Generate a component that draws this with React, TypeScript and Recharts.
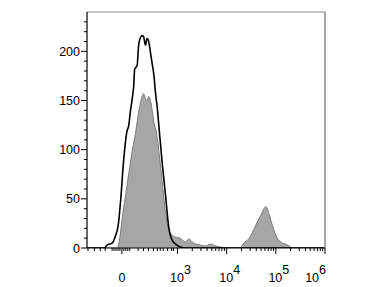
import { Area, ComposedChart, ReferenceLine, XAxis, YAxis } from "recharts";

// x positions are in display decades of the biexponential axis (10^3 = 3, "0" = 1.87)
const controlPos = [1.16, 1.51, 1.57, 1.67, 1.73, 1.8, 1.85, 1.9, 1.97, 2.01, 2.04, 2.08, 2.11, 2.13, 2.16, 2.18, 2.21, 2.24, 2.28, 2.31, 2.35, 2.38, 2.41, 2.45, 2.48, 2.52, 2.55, 2.59, 2.62, 2.69, 2.76, 2.82, 2.89, 2.99, 3.06, 3.16, 6];
const controlCount = [0, 0, 3, 5, 11, 25, 52, 86, 118, 125, 138, 152, 165, 182, 184, 186, 206, 213, 216, 215, 206, 213, 211, 199, 189, 176, 159, 142, 125, 86, 52, 22, 8, 3, 1, 0, 0];

const stainedPos = [1.16, 1.78, 1.8, 1.84, 1.87, 1.94, 2.01, 2.08, 2.14, 2.21, 2.28, 2.31, 2.35, 2.38, 2.41, 2.45, 2.48, 2.52, 2.57, 2.65, 2.72, 2.79, 2.86, 2.96, 3.06, 3.16, 3.23, 3.33, 3.47, 3.57, 3.67, 3.78, 3.88, 3.98, 4.29, 4.32, 4.46, 4.59, 4.69, 4.8, 4.86, 4.93, 5.0, 5.1, 5.24, 5.35, 6];
const stainedCount = [0, 0, 3, 15, 28, 52, 76, 99, 115, 138, 154, 157, 152, 149, 154, 150, 142, 128, 118, 86, 52, 25, 15, 11, 10, 6, 9, 5, 3, 2, 4, 2, 1, 0, 0, 3, 10, 23, 33, 42, 35, 23, 13, 6, 3, 0, 0];

const xMajorPos = [1.87, 3, 4, 5, 6];
const xMajorExp = ["", "3", "4", "5", "6"];
const xLinearMinor = [1.18, 1.31, 1.43, 1.53, 1.67, 1.71, 1.75, 1.79, 1.83, 1.91, 1.95, 1.99, 2.03, 2.2, 2.31, 2.41, 2.51, 2.59, 2.65, 2.71, 2.8, 2.88, 2.92];
const yTicks = [0, 10, 20, 30, 40, 50, 60, 70, 80, 90, 100, 110, 120, 130, 140, 150, 160, 170, 180, 190, 200, 210, 220, 230];

const X_DOMAIN: [number, number] = [1.16, 6];
const Y_DOMAIN: [number, number] = [0, 240];
const FONT = "'Liberation Sans', Arial, sans-serif";

const logMinor: number[] = [];
[3, 4, 5].forEach((d) => {
  for (let m = 2; m <= 9; m++) logMinor.push(d + Math.log10(m));
});
const xTicks = [...xLinearMinor, ...xMajorPos, ...logMinor].sort((a, b) => a - b);

const controlData = controlPos.map((x, i) => ({ x, y: controlCount[i] }));
const stainedData = stainedPos.map((x, i) => ({ x, y: stainedCount[i] }));

function XTick({ x, y, payload }: any) {
  const v = payload.value;
  const idx = xMajorPos.findIndex((p) => Math.abs(p - v) < 1e-6);
  const major = idx >= 0;
  const exp = major ? xMajorExp[idx] : "";
  const last = idx === xMajorPos.length - 1;
  return (
    <g>
      <line x1={x} x2={x} y1={y} y2={y + (major ? 6 : 3)} stroke="#000" strokeWidth={1} />
      {major && (
        <text
          x={last ? x + 1 : exp ? x + 3 : x}
          y={y + 34}
          textAnchor={last ? "end" : "middle"}
          fontSize={12.5}
          fontFamily={FONT}
          fill="#000"
        >
          {exp ? "10" : "0"}
          {exp && (
            <tspan dy={-8} fontSize={12.5}>
              {exp}
            </tspan>
          )}
        </text>
      )}
    </g>
  );
}

function YTick({ x, y, payload }: any) {
  const v = payload.value;
  const major = v % 50 === 0;
  return (
    <g>
      <line x1={x} x2={x - (major ? 6 : 3)} y1={y} y2={y} stroke="#000" strokeWidth={1} />
      {major && (
        <text x={x - 7} y={y} dy={4.5} textAnchor="end" fontSize={12.5} fontFamily={FONT} fill="#000">
          {v}
        </text>
      )}
    </g>
  );
}

export default function App() {
  return (
    <div style={{ width: 374, height: 279, background: "#fff" }}>
      <ComposedChart width={374} height={279} margin={{ top: 4, right: 57, left: 29, bottom: 4 }}>
        <XAxis
          dataKey="x"
          type="number"
          domain={X_DOMAIN}
          allowDataOverflow
          ticks={xTicks}
          interval={0}
          tick={<XTick />}
          tickLine={false}
          tickSize={0}
          tickMargin={0}
          height={35}
          axisLine={{ stroke: "#000", strokeWidth: 1.2 }}
        />
        <YAxis
          type="number"
          domain={Y_DOMAIN}
          allowDataOverflow
          ticks={yTicks}
          interval={0}
          tick={<YTick />}
          tickLine={false}
          tickSize={0}
          tickMargin={0}
          width={50}
          axisLine={{ stroke: "#000", strokeWidth: 1.2 }}
        />
        <ReferenceLine y={Y_DOMAIN[1]} stroke="#8a8a8a" strokeWidth={1.2} />
        <ReferenceLine x={X_DOMAIN[1]} stroke="#8a8a8a" strokeWidth={1.5} />
        <Area
          data={stainedData}
          dataKey="y"
          type="monotone"
          fill="#a6a6a6"
          fillOpacity={1}
          stroke="#7d7d7d"
          strokeWidth={1}
          isAnimationActive={false}
        />
        <Area
          data={controlData}
          dataKey="y"
          type="monotone"
          fill="none"
          stroke="#000"
          strokeWidth={1.6}
          isAnimationActive={false}
        />
      </ComposedChart>
    </div>
  );
}
